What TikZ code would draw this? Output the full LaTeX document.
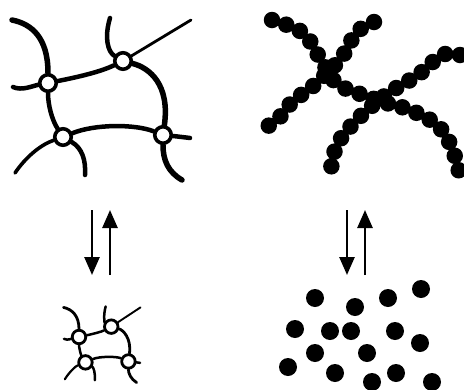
\documentclass[tikz,border=0pt]{standalone}
\usetikzlibrary{arrows.meta,backgrounds}

% A small polymer network: four junctions (A-D) joined by strands,
% with loose strand ends. Drawn in coordinates relative to junction A.
\newcommand\polynet[1]{%
  \node[junction] (#1A) at (0,0) {};
  \node[junction] (#1B) at (75,-22) {};
  \node[junction] (#1C) at (15,54) {};
  \node[junction] (#1D) at (115,52) {};
  \coordinate (#1e1) at (-36,-63);
  \coordinate (#1e2) at (-35,4);
  \coordinate (#1e3) at (62,-65);
  \coordinate (#1e4) at (143,-63);
  \coordinate (#1e5) at (-33,90);
  \coordinate (#1e6) at (37,92);
  \coordinate (#1e7) at (142,55);
  \coordinate (#1e8) at (134,97);
  \begin{pgfonlayer}{background}
    \draw[heavy] (#1e1) .. controls (-16,-59) and (0,-45) .. (#1A);
    \draw[medium] (#1e2) .. controls (-26,8) and (-16,3) .. (#1A);
    \draw[medium] (#1A) .. controls (30,-6) and (52,-11) .. (#1B);
    \draw[medium] (#1e3) .. controls (56,-45) and (60,-31) .. (#1B);
    \draw[light] (#1B) -- (#1e4);
    \draw[heavy] (#1B) .. controls (102,-15) and (122,2) .. (#1D);
    \draw[medium] (#1A) .. controls (0,22) and (4,37) .. (#1C);
    \draw[medium] (#1C) .. controls (47,41) and (87,41) .. (#1D);
    \draw[thinner] (#1C) .. controls (-8,62) and (-23,75) .. (#1e5);
    \draw[medium] (#1C) .. controls (34,65) and (38,77) .. (#1e6);
    \draw[medium] (#1D) .. controls (125,53) and (134,54) .. (#1e7);
    \draw[heavy] (#1D) .. controls (115,77) and (120,89) .. (#1e8);
  \end{pgfonlayer}
}

\tikzset{
  strandbase/.style={line cap=round, line join=round},
  chain/.style={line width=16.5pt, line cap=round, dash pattern=on 0pt off 15pt},
  bead/.style={fill=black},
  flow/.style={line width=2.6pt, -{Triangle[length=18pt,width=15pt]}},
}

\begin{document}
\begin{tikzpicture}[x=1pt,y=-1pt]
  \useasboundingbox (0,0) rectangle (464,389);
  \clip (0,0) rectangle (464,389);

  % large network (swollen state)
  \begin{scope}[shift={(48,83)},
      junction/.style={circle, draw, fill=white, inner sep=0pt, minimum size=16.5pt, line width=3.6pt},
      heavy/.style={strandbase, line width=5.5pt},
      medium/.style={strandbase, line width=4.5pt},
      thinner/.style={strandbase, line width=3.6pt},
      light/.style={strandbase, line width=2.8pt}]
    \polynet{big}
  \end{scope}

  % small network (collapsed state)
  \begin{scope}[shift={(79,337)}, xscale=0.43, yscale=0.47,
      junction/.style={circle, draw, fill=white, inner sep=0pt, minimum size=13.5pt, line width=2.8pt},
      heavy/.style={strandbase, line width=2.8pt},
      medium/.style={strandbase, line width=2.5pt},
      thinner/.style={strandbase, line width=2.2pt},
      light/.style={strandbase, line width=1.9pt}]
    \polynet{small}
  \end{scope}

  % bead chains
  \draw[chain] plot[smooth, tension=0.6] coordinates
    {(272,20) (303,33) (321,60) (336,83) (355,92) (383,102) (410,110) (437,125) (452,148) (461,180)};
  \draw[chain] plot[smooth, tension=0.6] coordinates
    {(374,22) (357,32) (342,57) (328,72) (312,87) (292,102) (279,118) (265,128)};
  \draw[chain] plot[smooth, tension=0.6] coordinates
    {(460,55) (442,55) (418,75) (390,92) (365,112) (345,133) (335,150) (330,175)};

  % free beads
  \foreach \p in {(315,298),(355,307),(388,298),(421,289),(295,329),(330,331),
                  (351,331),(395,331),(420,343),(315,353),(367,353),(288,367),
                  (335,373),(372,382),(396,373),(432,382)}
    \fill[bead] \p circle[radius=9pt];

  % reversible transition arrows
  \coordinate (ldtop) at (92,210);
  \coordinate (ldbot) at (92,275);
  \coordinate (lubot) at (110,275);
  \coordinate (lutop) at (110,210);
  \coordinate (rdtop) at (347,210);
  \coordinate (rdbot) at (347,275);
  \coordinate (rubot) at (365,275);
  \coordinate (rutop) at (365,210);
  \draw[flow] (ldtop) -- (ldbot);
  \draw[flow] (lubot) -- (lutop);
  \draw[flow] (rdtop) -- (rdbot);
  \draw[flow] (rubot) -- (rutop);
\end{tikzpicture}
\end{document}
